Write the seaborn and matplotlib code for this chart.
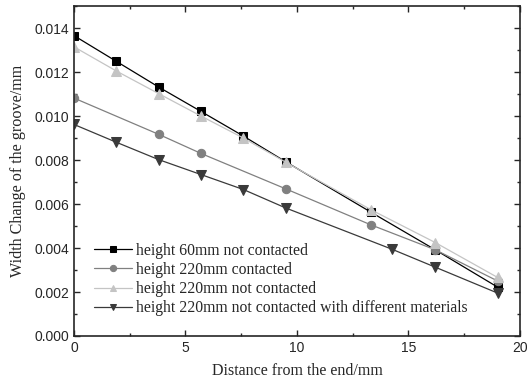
import numpy as np
import pandas as pd
import matplotlib
matplotlib.use("Agg")
import matplotlib.pyplot as plt
import seaborn as sns
from matplotlib.ticker import MultipleLocator

# -------------- data --------------
x_sq = [0, 1.9, 3.8, 5.7, 7.6, 9.5, 13.3, 16.2, 19.0]
y_sq = [0.01366, 0.01249, 0.01132, 0.01021, 0.00909, 0.00792, 0.00564, 0.00392, 0.00222]

x_ci = [0, 3.8, 5.7, 9.5, 13.3, 16.2, 19.0]
y_ci = [0.01082, 0.00917, 0.00830, 0.00669, 0.00506, 0.00392, 0.00250]

x_up = [0, 1.9, 3.8, 5.7, 7.6, 9.5, 13.3, 16.2, 19.0]
y_up = [0.01315, 0.01205, 0.01102, 0.01000, 0.00900, 0.00790, 0.00575, 0.00425, 0.00266]

x_dn = [0, 1.9, 3.8, 5.7, 7.6, 9.5, 14.25, 16.2, 19.0]
y_dn = [0.00962, 0.00881, 0.00802, 0.00734, 0.00666, 0.00582, 0.00395, 0.00313, 0.00195]

labels = ["height 60mm not contacted",
          "height 220mm contacted",
          "height 220mm not contacted",
          "height 220mm not contacted with different materials"]

sns.set_style("ticks")
plt.rcParams['font.family'] = ['Liberation Sans', 'DejaVu Sans']

fig = plt.figure(figsize=(5.27, 3.85), dpi=100)
ax = fig.add_axes([0.1404, 0.1273, 0.8463, 0.8567])

series = [
    (x_sq, y_sq, 's', '#000000', 5.5),
    (x_ci, y_ci, 'o', '#808080', 6),
    (x_up, y_up, '^', '#c4c4c4', 6.5),
    (x_dn, y_dn, 'v', '#3a3a3a', 6.5),
]
for (xs, ys, m, c, ms), lab in zip(series, labels):
    sns.lineplot(x=xs, y=ys, ax=ax, marker=m, color=c, markerfacecolor=c,
                 markeredgecolor=c, markersize=ms, linewidth=0.9, label=lab)

ax.set_xlim(0, 20)
ax.set_ylim(0, 0.015)
ax.xaxis.set_major_locator(MultipleLocator(5))
ax.xaxis.set_minor_locator(MultipleLocator(2.5))
ax.yaxis.set_major_locator(MultipleLocator(0.002))
ax.yaxis.set_minor_locator(MultipleLocator(0.001))
ax.yaxis.set_major_formatter(matplotlib.ticker.FormatStrFormatter('%.3f'))
ax.tick_params(which='both', direction='in', top=True, right=True, labelsize=10, width=1)
ax.tick_params(which='major', length=4)
ax.tick_params(which='minor', length=2.5)
for s in ax.spines.values():
    s.set_linewidth(1.2)

serif = ['Liberation Serif', 'DejaVu Serif']
ax.set_xlabel("Distance from the end/mm", family=serif, fontsize=11.5, labelpad=6)
ax.set_ylabel("Width Change of the groove/mm", family=serif, fontsize=11.6, labelpad=6)

leg = ax.legend(loc='lower left', bbox_to_anchor=(0.045, 0.06), frameon=False,
                prop={'family': serif, 'size': 11.3}, handlelength=2.4,
                handletextpad=0.25, labelspacing=0.2, borderaxespad=0,
                borderpad=0, markerscale=0.75)

fig.savefig("out.png", dpi=100)
